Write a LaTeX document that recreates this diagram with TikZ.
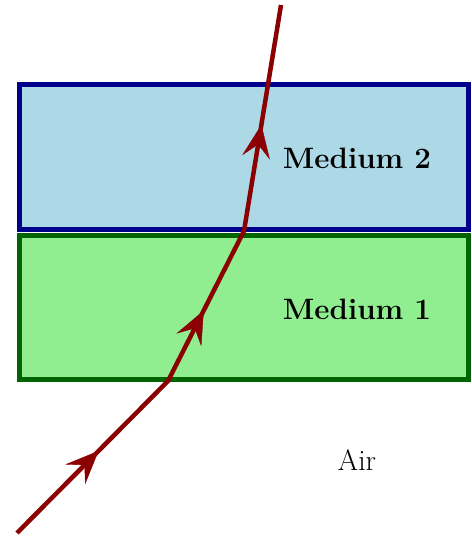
\documentclass[tikz,border=0pt]{standalone}
\usetikzlibrary{arrows.meta,decorations.markings}
\definecolor{mblue}{RGB}{0,0,139}
\definecolor{mlightblue}{RGB}{173,216,230}
\definecolor{mgreen}{RGB}{0,100,0}
\definecolor{mlightgreen}{RGB}{144,238,144}
\definecolor{mray}{RGB}{139,0,0}
\tikzset{
  medium/.style={line width=5pt},
  ray/.style={draw=mray,line width=4.5pt,line join=miter},
  lbl/.style={font=\fontsize{29.5}{35}\selectfont},
  rayarrow/.style={decoration={markings,mark=at position #1 with {\arrow[mray]{Stealth[length=33pt,width=28pt,inset=13pt]}}},decorate},
}
\begin{document}
\begin{tikzpicture}[x=1pt,y=1pt]
\useasboundingbox (0,0) rectangle (471,537);
\draw[medium,draw=mblue,fill=mlightblue] (19,452) rectangle (468,307.5);
\draw[medium,draw=mgreen,fill=mlightgreen] (19,301.5) rectangle (468,157);
\coordinate (A) at (17,4);
\coordinate (B) at (168,156);
\coordinate (C) at (244,306);
\coordinate (D) at (281,532);
\draw[ray] (A) -- (B) -- (C) -- (D);
\path[rayarrow=0.54] (A) -- (B);
\path[rayarrow=0.47] (B) -- (C);
\path[rayarrow=0.47] (C) -- (D);
\node[lbl] (m2) at (357,379) {\bfseries Medium 2};
\node[lbl] (m1) at (357,228) {\bfseries Medium 1};
\node[lbl] (air) at (357,77) {Air};
\end{tikzpicture}
\end{document}
